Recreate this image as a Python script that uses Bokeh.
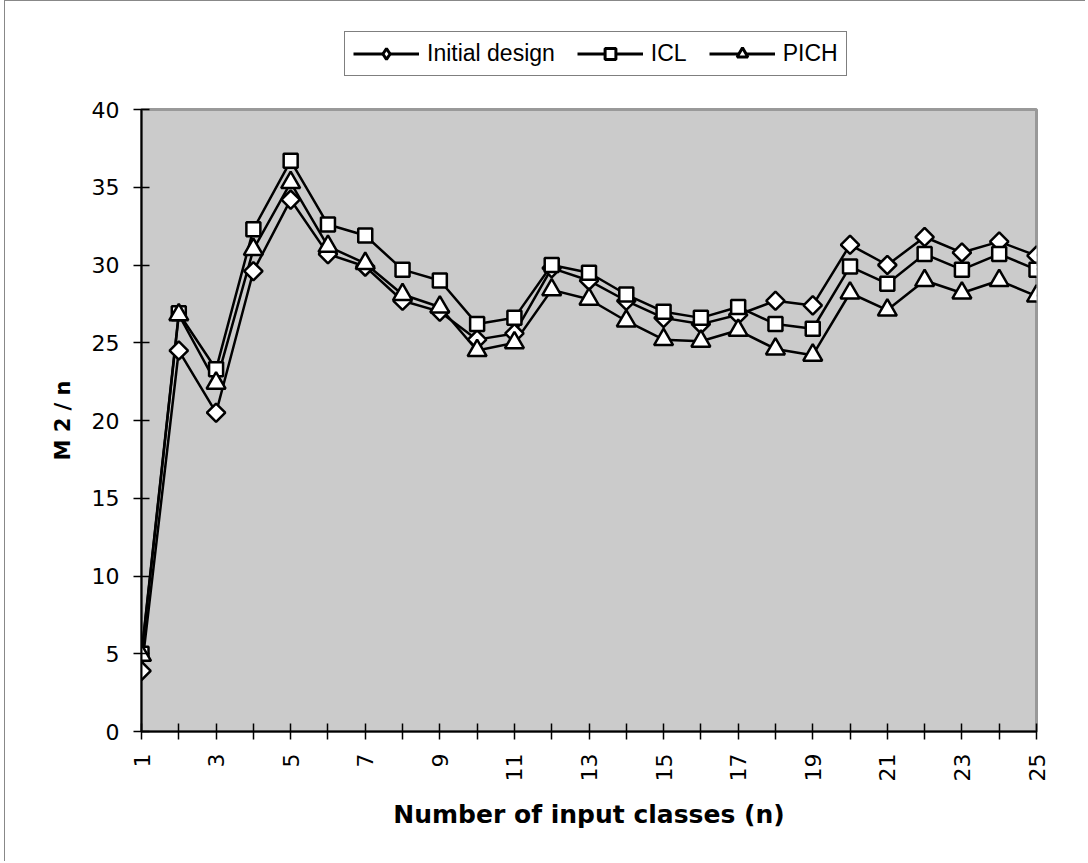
from math import pi
from bokeh.plotting import figure
from bokeh.layouts import column
from bokeh.models import (ColumnDataSource, Legend, LegendItem, FixedTicker)
from bokeh.embed import file_html
from bokeh.resources import INLINE

# ---- data ----
n_classes = [1, 2, 3, 4, 5, 6, 7, 8, 9, 10, 11, 12, 13,
             14, 15, 16, 17, 18, 19, 20, 21, 22, 23, 24, 25]
initial_design = [3.9, 24.5, 20.5, 29.6, 34.2, 30.7, 29.9, 27.7, 27.0, 25.2,
                  25.6, 29.8, 29.0, 27.7, 26.6, 26.2, 26.8, 27.7, 27.4, 31.3,
                  30.0, 31.8, 30.8, 31.5, 30.6]
icl = [5.0, 26.9, 23.3, 32.3, 36.7, 32.6, 31.9, 29.7, 29.0, 26.2,
       26.6, 30.0, 29.5, 28.1, 27.0, 26.6, 27.3, 26.2, 25.9, 29.9,
       28.8, 30.7, 29.7, 30.7, 29.7]
pich = [4.9, 26.8, 22.4, 31.0, 35.3, 31.2, 30.1, 28.1, 27.3, 24.5,
        25.0, 28.4, 27.8, 26.4, 25.2, 25.1, 25.8, 24.6, 24.2, 28.2,
        27.1, 29.0, 28.2, 29.0, 28.0]
series_names = ["Initial design", "ICL", "PICH"]
x_tick_labels = ["1", "", "3", "", "5", "", "7", "", "9", "", "11", "", "13",
                 "", "15", "", "17", "", "19", "", "21", "", "23", "", "25"]
y_ticks = [0, 5, 10, 15, 20, 25, 30, 35, 40]
y_tick_labels = ["0", "5", "10", "15", "20", "25", "30", "35", "40"]
x_title = "Number of input classes (n)"
y_title = "M 2 / n"

AX_FONT = "DejaVu Sans"
LEG_FONT = "Liberation Sans"

# ---- main chart ----
p = figure(width=1080, height=766, output_backend="svg", toolbar_location=None,
           x_range=(1, 25), y_range=(0, 40),
           min_border_left=136, min_border_right=49,
           min_border_top=14, min_border_bottom=130,
           background_fill_color="#cbcbcb", border_fill_color="white",
           outline_line_color="#999999", outline_line_width=3)
p.grid.visible = False
p.title.visible = False

p.xaxis.ticker = FixedTicker(ticks=n_classes)
p.xaxis.major_label_overrides = {n: lab for n, lab in zip(n_classes, x_tick_labels)}
p.xaxis.major_label_orientation = pi / 2
p.yaxis.ticker = FixedTicker(ticks=y_ticks)
p.yaxis.major_label_overrides = {t: lab for t, lab in zip(y_ticks, y_tick_labels)}
for ax in (p.xaxis, p.yaxis):
    ax.axis_line_color = "black"
    ax.axis_line_width = 2
    ax.major_tick_line_color = "black"
    ax.major_tick_line_width = 1.5
    ax.major_tick_in = 8
    ax.major_tick_out = 8
    ax.minor_tick_line_color = None
    ax.major_label_text_font = AX_FONT
    ax.major_label_text_font_size = "22px"
    ax.major_label_text_color = "black"
    ax.axis_label_text_font = AX_FONT
    ax.axis_label_text_font_style = "bold"
    ax.axis_label_text_color = "black"
p.xaxis.major_label_standoff = 14
p.yaxis.major_label_standoff = 14
p.xaxis.axis_label = x_title
p.yaxis.axis_label = y_title
p.xaxis.axis_label_text_font_size = "25px"
p.yaxis.axis_label_text_font_size = "21px"
p.xaxis.axis_label_standoff = 16
p.yaxis.axis_label_standoff = 14

sources = [ColumnDataSource(dict(x=n_classes, y=v)) for v in (initial_design, icl, pich)]
marker_specs = [
    dict(marker="square", angle=pi / 4, size=13),
    dict(marker="square", angle=0, size=14),
    dict(marker="triangle", angle=0, size=19),
]
for src in sources:
    p.line("x", "y", source=src, line_color="black", line_width=2.5)
for src, ms in zip(sources, marker_specs):
    p.scatter("x", "y", source=src, fill_color="white", line_color="black",
              line_width=2.5, **ms)

# ---- legend strip (separate figure above the chart) ----
lg = figure(width=1080, height=94, output_backend="svg", toolbar_location=None,
            x_range=(0, 1), y_range=(0, 1), x_axis_type=None, y_axis_type=None,
            min_border=0, background_fill_color="white", border_fill_color="white",
            outline_line_color=None)
lg.grid.visible = False
lg.title.visible = False

legend_marker_specs = [
    dict(marker="diamond", size=17),
    dict(marker="square", size=11),
    dict(marker="triangle", size=15),
]
nan = float("nan")
items = []
for name, lms in zip(series_names, legend_marker_specs):
    dummy = ColumnDataSource(dict(x=[nan], y=[nan]))
    lr = lg.line("x", "y", source=dummy, line_color="black", line_width=3)
    mr = lg.scatter("x", "y", source=dummy, fill_color="white", line_color="black",
                    line_width=3, **lms)
    items.append(LegendItem(label=name, renderers=[lr, mr]))

legend = Legend(items=items, orientation="horizontal", location=(203, 19),
                glyph_width=66, glyph_height=27, label_height=27,
                label_standoff=8, spacing=22, padding=8, margin=0,
                label_text_font=LEG_FONT, label_text_font_size="23px",
                label_text_color="black",
                border_line_color="black", border_line_width=1,
                background_fill_color="white", background_fill_alpha=1.0)
lg.add_layout(legend, "center")

layout = column(lg, p, spacing=0,
                styles={"margin-left": "4px",
                        "border-top": "1px solid #888888",
                        "border-left": "1px solid #888888"})

open("out.html", "w").write(file_html(layout, INLINE))
